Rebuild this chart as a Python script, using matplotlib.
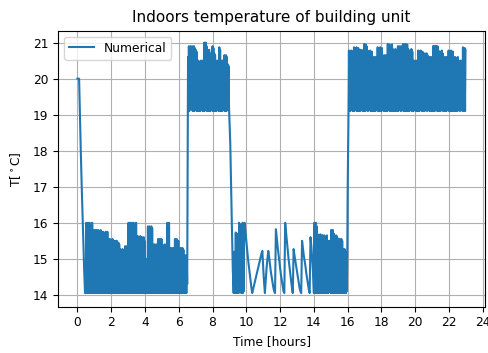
import numpy as np
import matplotlib
matplotlib.use("Agg")
import matplotlib.pyplot as plt

# --- initial cool-down (t = 0.00 .. 0.45, every 0.05 h)
init_start, init_step = 0.0, 0.05
init_vals = [20.0, 20.0, 20.0, 19.0, 18.0, 17.1, 16.3, 15.5, 14.7, 14.05]

# --- dense segment 1 (t = 0.500 .. 6.475, every 0.025 h), trough/peak pairs
seg1_start, seg1_step = 0.5, 0.025
seg1_troughs = [14.05, 14.1, 14.05, 14.2, 14.05, 14.05, 14.1, 14.05, 14.3, 14.05,
                14.05, 14.1, 14.05, 14.05, 14.2, 14.05, 14.05, 14.1, 14.05, 14.3,
                14.05, 14.05, 14.1, 14.05, 14.05, 14.2, 14.05, 14.1, 14.05, 14.05,
                14.3, 14.05, 14.1, 14.05, 14.05, 14.2, 14.05, 14.05, 14.1, 14.05,
                14.05, 14.3, 14.05, 14.1, 14.05, 14.05, 14.2, 14.05, 14.05, 14.1,
                14.05, 14.3, 14.05, 14.05, 14.1, 14.05, 14.2, 14.05, 14.1, 14.05,
                14.05, 14.1, 14.05, 14.2, 14.05, 14.05, 14.1, 14.05, 14.3, 14.05,
                14.05, 14.1, 14.05, 14.05, 14.2, 14.05, 14.05, 14.1, 14.05, 14.3,
                14.05, 14.05, 14.1, 14.05, 14.05, 14.2, 14.05, 14.1, 14.05, 14.05,
                14.3, 14.05, 14.1, 14.05, 14.05, 14.2, 14.05, 14.05, 14.1, 14.05,
                14.05, 14.3, 14.05, 14.1, 14.05, 14.05, 14.2, 14.05, 14.05, 14.1,
                14.05, 14.3, 14.05, 14.05, 14.1, 14.05, 14.2, 14.05, 14.1, 14.05]
seg1_peaks = [16.0, 15.95, 16.0, 15.9, 16.0, 15.95, 15.9, 16.0,
              15.8, 15.75, 15.8, 15.7, 15.8, 15.75, 15.8, 15.7, 15.75, 15.8,
              15.75, 15.7, 15.75, 14.9, 15.7, 15.75, 15.7, 15.75,
              15.55, 15.5, 15.55, 15.45, 15.5, 15.55,
              15.5, 15.45, 15.5, 15.4, 15.5, 14.7, 15.45, 15.4,
              15.27, 15.2, 15.25, 15.27, 15.2, 15.25,
              15.35, 15.3, 15.35, 15.3,
              16.0, 15.95, 16.0, 15.9, 16.0, 15.95, 16.0, 15.9, 15.95, 16.0,
              15.6, 15.63, 15.55, 15.6, 15.63, 15.5, 15.6, 15.55, 15.6, 15.5,
              15.0, 14.9, 15.0,
              15.9, 15.85, 15.9, 15.8, 15.9, 15.85,
              15.4, 15.35, 15.4, 15.3, 15.4, 15.35,
              15.55, 15.5, 15.55, 15.5, 15.55,
              15.4, 15.35, 14.8, 15.4, 15.35, 15.4,
              16.0, 15.95, 16.0,
              15.3, 15.25, 15.3, 15.2, 15.3, 15.25,
              15.55, 15.5, 15.55, 15.45, 15.5,
              15.3, 15.25, 15.3, 15.2, 15.3, 15.25,
              15.1, 15.05, 15.1, 15.0]

# --- heating up (t = 6.50)
rise1_start, rise1_step = 6.5, 0.05
rise1_vals = [14.3]

# --- dense segment 2 (t = 6.550 .. 8.975, every 0.025 h), peak/trough pairs
seg2_start, seg2_step = 6.55, 0.025
seg2_peaks = [20.6,
              20.9, 20.85, 20.9, 20.8, 20.9, 20.85, 20.9, 20.85,
              20.8, 20.75,
              20.45, 20.5, 20.4, 20.45, 20.5, 20.45,
              20.5, 20.45,
              21.0, 20.95, 21.0, 20.9,
              20.8, 20.75, 20.8, 20.7,
              20.5, 20.45,
              20.9, 20.85,
              20.7, 20.65,
              20.5, 20.45, 20.5, 20.4,
              20.87, 20.8,
              20.5, 20.45, 20.5, 20.5,
              20.65, 20.6, 20.65, 20.6,
              20.4, 20.35]
seg2_troughs = [19.2, 19.1, 19.3, 19.15, 19.5, 19.1, 19.2, 19.1, 19.4, 19.15,
                19.1, 19.3, 19.1, 19.2, 19.1, 19.45, 19.15, 19.1, 19.2, 19.1,
                19.3, 19.15, 19.1, 19.2, 19.1, 19.2, 19.1, 19.4, 19.15, 19.1,
                19.25, 19.1, 19.2, 19.1, 19.3, 19.15, 19.1, 19.45, 19.1, 19.2,
                19.1, 19.15, 19.3, 19.1, 19.2, 19.1, 19.25, 19.15, 19.2]

# --- cool-down (t = 9.05 .. 9.20)
drop_start, drop_step = 9.05, 0.05
drop_vals = [18.2, 17.0, 15.8, 14.7]

# --- dense segment 3 (t = 9.250 .. 9.900, every 0.025 h)
seg3_start, seg3_step = 9.25, 0.025
seg3_vals = [14.05, 15.18, 14.1, 15.2, 14.05, 15.73, 14.3, 15.7, 14.05, 15.4,
             14.5, 15.7, 14.05, 16.0, 14.1, 15.95, 14.5, 15.9, 14.05, 15.6,
             14.1, 16.0, 14.05, 15.95, 14.1, 15.9, 16.0]

# --- sawtooth (t = 9.95 .. 13.95)
saw_start, saw_step = 9.95, 0.05
saw_vals = [15.75, 15.5, 15.25, 15.0, 14.8, 14.6, 14.4, 14.2, 14.05, 14.15,
            14.25, 14.35, 14.45, 14.55, 14.65, 14.75, 14.85, 14.95, 15.05, 15.15,
            15.22, 14.75, 14.35, 14.05, 14.4, 14.75, 15.0, 15.22, 15.05, 14.85,
            14.65, 14.5, 14.35, 14.2, 14.1, 14.05, 15.82, 15.6, 15.35, 15.15,
            14.95, 14.75, 14.55, 14.4, 14.25, 14.1, 14.05, 16.0, 15.75, 15.5,
            15.25, 15.0, 14.8, 14.6, 14.4, 14.2, 14.05, 15.27, 15.1, 14.95,
            14.8, 14.65, 14.5, 14.35, 14.2, 14.1, 14.05, 15.5, 15.3, 15.1,
            14.95, 14.8, 14.6, 14.45, 14.3, 14.15, 14.05, 15.6, 15.35, 15.0,
            14.6]

# --- dense segment 4 (t = 14.000 .. 15.975, every 0.025 h), trough/peak pairs
seg4_start, seg4_step = 14.0, 0.025
seg4_troughs = [14.05, 14.1, 14.05, 14.2, 14.05, 14.05, 14.1, 14.05, 14.3, 14.05,
                14.05, 14.1, 14.05, 14.2, 14.05, 14.05, 14.1, 14.05, 14.2, 14.1,
                14.05, 14.05, 14.1, 14.05, 14.3, 14.05, 14.1, 14.05, 14.05, 14.2,
                14.05, 14.1, 14.05, 14.05, 14.2, 14.05, 14.1, 14.05, 14.05, 14.1]
seg4_peaks = [16.0, 15.95, 16.0, 15.9,
              15.68, 15.6, 15.65, 15.68, 15.6, 15.65,
              15.65, 15.6, 15.65, 14.9, 15.6, 15.65,
              15.5, 15.45, 15.5, 15.45,
              15.8, 15.75, 15.8, 15.7,
              15.65, 15.6, 15.65, 15.6,
              15.55, 15.5, 15.55, 15.45, 15.55, 15.5,
              15.27, 15.2, 15.27, 15.2, 15.1, 15.0]

# --- heating up (t = 16.00)
rise2_start, rise2_step = 16.0, 0.05
rise2_vals = [16.9]

# --- dense segment 5 (t = 16.050 .. 22.975, every 0.025 h), trough/peak pairs
seg5_start, seg5_step = 16.05, 0.025
seg5_troughs = [19.1, 19.2, 19.1, 19.4, 19.15, 19.1, 19.25, 19.1, 19.5, 19.15,
                19.1, 19.2, 19.1, 19.3, 19.1, 19.15, 19.45, 19.1, 19.2, 19.1,
                19.1, 19.3, 19.15, 19.1, 19.2, 19.5, 19.1, 19.15, 19.1, 19.3,
                19.1, 19.2, 19.1, 19.45, 19.15, 19.1, 19.25, 19.1, 19.2, 19.1,
                19.4, 19.15, 19.1, 19.2, 19.1, 19.3, 19.1, 19.15, 19.5, 19.1,
                19.2, 19.1, 19.3, 19.1, 19.15, 19.1, 19.4, 19.1, 19.2, 19.1,
                19.15, 19.3, 19.1, 19.2, 19.45, 19.1, 19.1, 19.25, 19.1, 19.5,
                19.1, 19.2, 19.1, 19.4, 19.15, 19.1, 19.25, 19.1, 19.5, 19.15,
                19.1, 19.2, 19.1, 19.3, 19.1, 19.15, 19.45, 19.1, 19.2, 19.1,
                19.1, 19.3, 19.15, 19.1, 19.2, 19.5, 19.1, 19.15, 19.1, 19.3,
                19.1, 19.2, 19.1, 19.45, 19.15, 19.1, 19.25, 19.1, 19.2, 19.1,
                19.4, 19.15, 19.1, 19.2, 19.1, 19.3, 19.1, 19.15, 19.5, 19.1,
                19.2, 19.1, 19.3, 19.1, 19.15, 19.1, 19.4, 19.1, 19.2, 19.1,
                19.15, 19.3, 19.1, 19.2, 19.45, 19.1, 19.1, 19.25, 19.1]
seg5_peaks = [20.78, 20.7, 20.75, 20.78, 20.7, 20.75,
              20.87, 20.8, 20.85, 20.87, 20.8, 20.85,
              20.8, 20.75, 20.8, 20.1, 20.75, 20.8,
              20.96, 20.9, 20.95, 20.9,
              20.78, 20.7, 20.75, 20.78, 20.7, 20.75,
              20.6, 20.55, 20.6, 20.5, 20.6, 20.55,
              20.87, 20.8, 20.85, 20.87, 20.8, 20.85,
              20.65, 20.6, 20.65, 20.6, 20.65, 20.6,
              20.96, 20.9, 20.95, 19.9, 20.9, 20.95,
              20.82, 20.75, 20.8, 20.82, 20.75, 20.8,
              20.9, 20.85, 20.9, 20.85, 20.9, 20.85,
              20.96, 20.9, 20.95, 20.96, 20.9, 20.95,
              20.82, 20.75, 20.2, 20.8, 20.82, 20.75,
              20.5, 20.45, 20.5, 20.45, 20.5, 20.45,
              20.78, 20.7, 20.75, 20.78, 20.7, 20.75,
              20.7, 20.65, 20.7, 20.65, 20.7, 20.65,
              20.6, 20.55, 20.6, 20.55, 20.6, 20.55,
              20.91, 20.85, 20.9, 20.91, 20.85, 20.9,
              20.78, 20.7, 20.0, 20.75, 20.78, 20.7,
              20.6, 20.55, 20.6, 20.55, 20.6, 20.55,
              20.78, 20.7, 20.75, 20.78, 20.7, 20.75,
              20.6, 20.55, 20.6, 20.1, 20.55, 20.6,
              20.5, 20.45, 20.5, 20.45, 20.5,
              20.87, 20.8, 20.85, 20.8]


def pairs(first, second):
    return np.column_stack([first, second]).ravel()


segments = [
    (init_start, init_step, np.array(init_vals)),
    (seg1_start, seg1_step, pairs(seg1_troughs, seg1_peaks)),
    (rise1_start, rise1_step, np.array(rise1_vals)),
    (seg2_start, seg2_step, pairs(seg2_peaks, seg2_troughs)),
    (drop_start, drop_step, np.array(drop_vals)),
    (seg3_start, seg3_step, np.array(seg3_vals)),
    (saw_start, saw_step, np.array(saw_vals)),
    (seg4_start, seg4_step, pairs(seg4_troughs, seg4_peaks)),
    (rise2_start, rise2_step, np.array(rise2_vals)),
    (seg5_start, seg5_step, pairs(seg5_troughs, seg5_peaks)),
]

time = np.concatenate([s + h * np.arange(len(v)) for s, h, v in segments])
temp = np.concatenate([v for s, h, v in segments])

plt.rcParams['font.family'] = ['DejaVu Sans']
plt.rcParams['path.simplify'] = False
fig = plt.figure(figsize=(4.88, 3.53), dpi=100)
ax = fig.add_axes([0.1195, 0.131, 0.8740, 0.782])
ax.plot(time, temp, color='#1f77b4', linewidth=1.5, label='Numerical')
ax.set_xlim(-1.13, 24.12)
ax.set_ylim(13.67, 21.33)
ax.set_xticks(np.arange(0, 25, 2))
ax.set_yticks(np.arange(14, 22, 1))
ax.tick_params(labelsize=8.8)
ax.grid(True, color='#b0b0b0', linewidth=0.8)
ax.set_xlabel('Time [hours]', fontsize=8.8)
ax.set_ylabel(r'T[$^\circ$C]', fontsize=8.8, labelpad=7)
ax.set_title('Indoors temperature of building unit', fontsize=11)
ax.legend(loc='upper left', fontsize=8.8)
fig.savefig('out.png', dpi=100)
